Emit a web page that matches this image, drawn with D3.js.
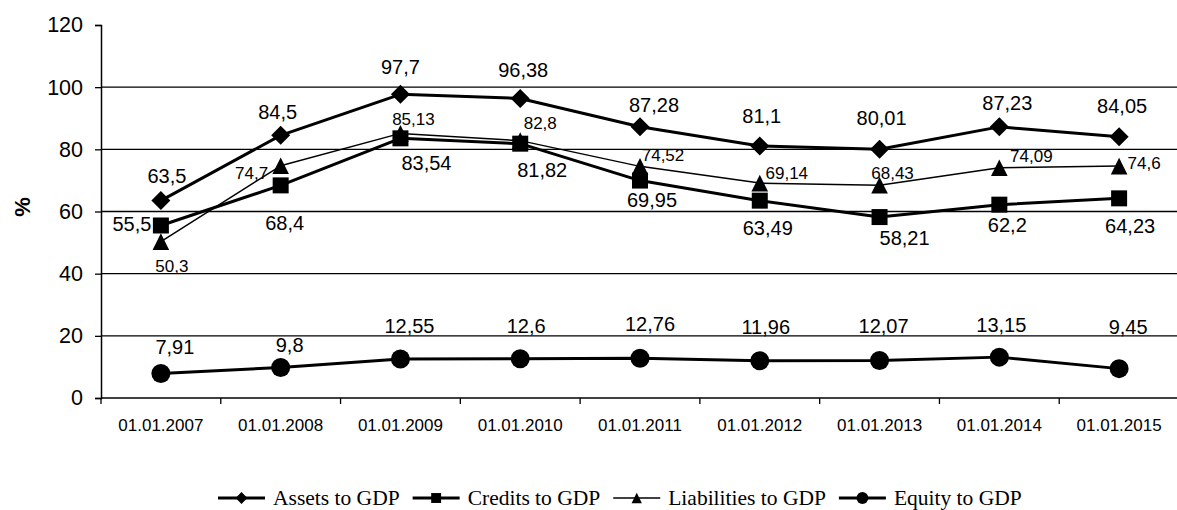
<!DOCTYPE html>
<html>
<head>
<meta charset="utf-8">
<script src="https://cdn.jsdelivr.net/npm/d3@7"></script>
<style>
  html, body { margin: 0; padding: 0; background: #fff; }
  svg { display: block; }
</style>
</head>
<body>
<svg id="chart" width="1177" height="510"></svg>
<script>
// Banking sector indicators relative to GDP, %
const categories = ["01.01.2007", "01.01.2008", "01.01.2009", "01.01.2010", "01.01.2011",
                    "01.01.2012", "01.01.2013", "01.01.2014", "01.01.2015"];
const assets      = [63.5, 84.5, 97.7, 96.38, 87.28, 81.1, 80.01, 87.23, 84.05];
const credits     = [55.5, 68.4, 83.54, 81.82, 69.95, 63.49, 58.21, 62.2, 64.23];
const liabilities = [50.3, 74.7, 85.13, 82.8, 74.52, 69.14, 68.43, 74.09, 74.6];
const equity      = [7.91, 9.8, 12.55, 12.6, 12.76, 11.96, 12.07, 13.15, 9.45];
const yTicks = [0, 20, 40, 60, 80, 100, 120];
const seriesNames = ["Assets to GDP", "Credits to GDP", "Liabilities to GDP", "Equity to GDP"];

// Value label placement (offset of the label centre from its point, px)
const labelOffsets = {
  assets:      [[6,-25],[-3,-23],[0,-27],[3,-28],[14,-22],[2,-30],[2,-31],[8,-24],[3,-31]],
  credits:     [[-29,-1],[4,38],[26,25],[22,26],[12,19],[8,27],[25,21],[8,20],[11,28]],
  liabilities: [[11,24],[-29,7],[13,-14],[20,-18],[23,-11],[27,-10],[13,-12],[32,-12],[25,-3]],
  equity:      [[14,-26],[9,-23],[9,-33],[6,-33],[10,-34],[6,-34],[4,-34],[2,-32],[9,-42]]
};

const svg = d3.select("#chart");
const sans = "'Liberation Sans', Arial, sans-serif";
const serif = "'Liberation Serif', 'Times New Roman', serif";

const x = d3.scaleBand().domain(categories).range([101, 1179]).padding(0);
const y = d3.scaleLinear().domain([0, 120]).range([398, 25]);
const cx = c => x(c) + x.bandwidth() / 2;

// Horizontal gridlines
svg.append("g")
  .selectAll("line")
  .data(yTicks.filter(t => t > 0 && t < 120))
  .join("line")
  .attr("x1", 101).attr("x2", 1177)
  .attr("y1", d => y(d)).attr("y2", d => y(d))
  .attr("stroke", "#000").attr("stroke-width", 1.3);

// Y axis
const yAxis = svg.append("g")
  .attr("transform", "translate(101,0)")
  .call(d3.axisLeft(y).tickValues(yTicks).tickSize(6).tickPadding(12).tickFormat(d3.format("d")));
yAxis.select(".domain").attr("stroke", "#000").attr("stroke-width", 1.5);
yAxis.selectAll(".tick line").attr("stroke", "#000").attr("stroke-width", 1.3);
yAxis.selectAll("text").attr("font-family", sans).attr("font-size", 21.5).attr("fill", "#000");

// X axis: tick marks at category boundaries
const xAxis = svg.append("g").attr("transform", "translate(0,398)");
xAxis.append("line")
  .attr("x1", 101).attr("x2", 1177).attr("y1", 0).attr("y2", 0)
  .attr("stroke", "#000").attr("stroke-width", 1.5);
xAxis.selectAll("line.tk")
  .data(categories.concat(["end"]))
  .join("line").attr("class", "tk")
  .attr("x1", (d, i) => i < categories.length ? x(d) : x(categories[categories.length - 1]) + x.bandwidth())
  .attr("x2", (d, i) => i < categories.length ? x(d) : x(categories[categories.length - 1]) + x.bandwidth())
  .attr("y1", 0).attr("y2", 6)
  .attr("stroke", "#000").attr("stroke-width", 1.3);
xAxis.selectAll("text")
  .data(categories)
  .join("text")
  .attr("x", d => cx(d)).attr("y", 33)
  .attr("text-anchor", "middle")
  .attr("font-family", sans).attr("font-size", 17).attr("fill", "#000")
  .text(d => d);

// Y axis title
svg.append("text")
  .attr("transform", "translate(30,207) rotate(-90)")
  .attr("text-anchor", "middle")
  .attr("font-family", sans).attr("font-size", 22).attr("font-weight", "bold")
  .attr("fill", "#000")
  .text("%");

// Marker shapes
const shapes = {
  diamond: s => `M0,${-s}L${s},0L0,${s}L${-s},0Z`,
  square: s => `M${-s},${-s}H${s}V${s}H${-s}Z`,
  triangle: s => `M0,${-s}L${s},${s}L${-s},${s}Z`,
  circle: s => `M${-s},0A${s},${s} 0 1,0 ${s},0A${s},${s} 0 1,0 ${-s},0Z`
};

const series = [
  { key: "assets", name: seriesNames[0], values: assets, shape: "diamond", size: 9.5, width: 3, font: 20 },
  { key: "credits", name: seriesNames[1], values: credits, shape: "square", size: 8, width: 3, font: 20 },
  { key: "liabilities", name: seriesNames[2], values: liabilities, shape: "triangle", size: 8.3, width: 1.5, font: 17 },
  { key: "equity", name: seriesNames[3], values: equity, shape: "circle", size: 9.5, width: 3, font: 20 }
];

const line = d3.line().x(d => cx(d.c)).y(d => y(d.v));

series.forEach(s => {
  const pts = s.values.map((v, i) => ({ c: categories[i], v, i }));
  const g = svg.append("g").attr("class", "series-" + s.key);
  g.append("path")
    .datum(pts)
    .attr("d", line)
    .attr("fill", "none")
    .attr("stroke", "#000")
    .attr("stroke-width", s.width)
    .attr("stroke-linejoin", "round");
  g.selectAll("path.marker")
    .data(pts)
    .join("path").attr("class", "marker")
    .attr("d", shapes[s.shape](s.size))
    .attr("transform", d => `translate(${cx(d.c)},${y(d.v)})`)
    .attr("fill", "#000");
});

// Value labels (drawn after all lines so they sit on top)
series.forEach(s => {
  const pts = s.values.map((v, i) => ({ c: categories[i], v, i }));
  svg.append("g").selectAll("text")
    .data(pts)
    .join("text")
    .attr("x", d => cx(d.c) + labelOffsets[s.key][d.i][0])
    .attr("y", d => y(d.v) + labelOffsets[s.key][d.i][1])
    .attr("dy", "0.35em")
    .attr("text-anchor", "middle")
    .attr("font-family", sans).attr("font-size", s.font).attr("fill", "#000")
    .text(d => String(d.v).replace(".", ","));
});

// Legend
const legend = svg.append("g").attr("class", "legend");
let lx = 218;
const ly = 498;
series.forEach(s => {
  const item = legend.append("g");
  item.append("line")
    .attr("x1", lx).attr("x2", lx + 47).attr("y1", ly).attr("y2", ly)
    .attr("stroke", "#000").attr("stroke-width", s.width);
  item.append("path")
    .attr("d", shapes[s.shape](s.size * 0.62))
    .attr("transform", `translate(${lx + 23.5},${ly})`)
    .attr("fill", "#000");
  const t = item.append("text")
    .attr("x", lx + 55).attr("y", ly + 7)
    .attr("font-family", serif).attr("font-size", 21.5).attr("fill", "#000")
    .text(s.name);
  lx += 55 + t.node().getComputedTextLength() + 13;
});
</script>
</body>
</html>
